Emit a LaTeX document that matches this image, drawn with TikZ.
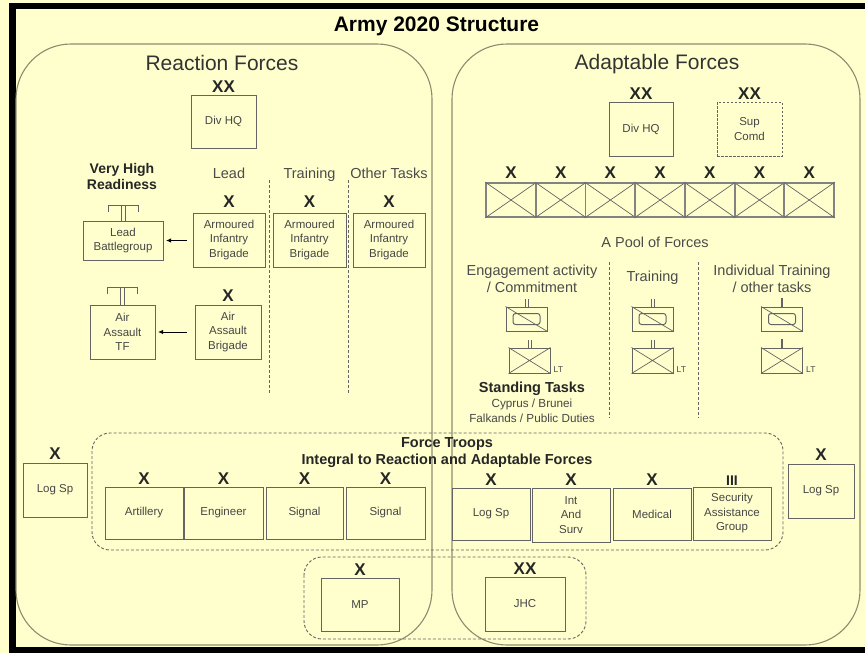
\documentclass[tikz,border=0pt]{standalone}
\usepackage{fontspec}
\setmainfont{Liberation Sans}
\usetikzlibrary{arrows.meta}
\definecolor{paper}{RGB}{255,255,206}
\definecolor{frameol}{RGB}{140,140,112}
\definecolor{boxline}{RGB}{100,100,100}
\definecolor{boxtext}{RGB}{70,70,70}
\definecolor{headtext}{RGB}{75,75,75}

\begin{document}
\begin{tikzpicture}[x=1pt,y=-1pt,
  unit/.style 2 args={draw=boxline, line width=1pt, fill=paper, inner sep=0pt,
    align=center, text=boxtext, font=\fontsize{11.5}{14.5}\selectfont,
    minimum width=#1, minimum height=#2},
  ech/.style={font=\bfseries\fontsize{17}{17}\selectfont, text=black!85,
    inner sep=0pt, anchor=south},
  head/.style={font=\fontsize{14.5}{17}\selectfont, text=headtext, inner sep=0pt, anchor=base},
  bighead/.style={font=\fontsize{21}{25}\selectfont, text=black!80, inner sep=0pt, anchor=base},
  boldhead/.style={font=\bfseries\fontsize{14}{17}\selectfont, text=black!85, inner sep=0pt, anchor=base},
  note/.style={font=\fontsize{11.7}{14}\selectfont, text=boxtext, inner sep=0pt, anchor=base},
  ltlab/.style={font=\fontsize{8.5}{9}\selectfont, text=boxtext, inner sep=0pt, anchor=base west},
  forcebox/.style={draw=frameol, line width=1.1pt, rounded corners=55pt},
  group/.style={draw=boxline, line width=0.9pt, dash pattern=on 3pt off 2pt, rounded corners=18pt},
  divider/.style={draw=boxline, line width=0.9pt, dash pattern=on 3pt off 2pt},
  poolbox/.style={draw=boxline!80, line width=1.8pt, minimum width=49.7, minimum height=34, inner sep=0pt},
  sym/.style 2 args={draw=boxline, line width=1pt, minimum width=#1, minimum height=#2, inner sep=0pt},
  thinline/.style={draw=boxline, line width=0.7pt},
  echmark/.style={draw=boxline, line width=1pt},
  feed/.style={draw=black, line width=1pt, -{Latex[length=5pt,width=4.5pt]}}
]
% page, frame and title
\fill[paper] (0,0) rectangle (865,653);
\fill[black] (9,3) rectangle (865,653);
\fill[paper] (16,9) rectangle (865,647);
\node[font=\bfseries\fontsize{21}{25}\selectfont, inner sep=0pt, anchor=base] (title) at (436.5,31) {Army 2020 Structure};

% the two force halves
\draw[forcebox] (16,44) rectangle (432,645);
\draw[forcebox] (452,44) rectangle (860,645);
\node[bighead] (rfhead) at (222,70) {Reaction Forces};
\node[bighead] (afhead) at (657,69) {Adaptable Forces};

% ---------------- Reaction Forces ----------------
\node[unit={65}{53}] (divL) at (223.5,121.5) {Div HQ};
\node[ech, yshift=1.5pt] (divLx) at (divL.north) {XX};

\node[boldhead] (vhr1) at (122,173.5) {Very High};
\node[boldhead] (vhr2) at (122,189) {Readiness};
\node[head] (hlead) at (229,178) {Lead};
\node[head] (htrain) at (309.5,178) {Training};
\node[head] (hother) at (389,178) {Other Tasks};
\coordinate (d1t) at (269,180); \coordinate (d1b) at (269,393);
\coordinate (d2t) at (348,180); \coordinate (d2b) at (348,393);
\draw[divider] (d1t) -- (d1b);
\draw[divider] (d2t) -- (d2b);

\node[unit={72}{54}] (armLead) at (229,240) {Armoured\\Infantry\\Brigade};
\node[unit={73}{54}] (armTrain) at (309.5,240) {Armoured\\Infantry\\Brigade};
\node[unit={72}{54}] (armOther) at (389,240) {Armoured\\Infantry\\Brigade};
\node[ech, yshift=4.5pt] (armLeadx) at (armLead.north) {X};
\node[ech, yshift=4.5pt] (armTrainx) at (armTrain.north) {X};
\node[ech, yshift=4.5pt] (armOtherx) at (armOther.north) {X};

\node[unit={80}{39}] (leadBG) at (123,240.5) {Lead\\Battlegroup};
\draw[echmark] ([shift={(-15,-9)}]leadBG.north) -- ++(0,-6) -- ++(30,0) -- ++(0,6);
\draw[echmark] ([xshift=-2]leadBG.north) -- ++(0,-15);
\draw[echmark] ([xshift=2]leadBG.north) -- ++(0,-15);

\node[unit={66}{54}] (aaBde) at (228,332) {Air\\Assault\\Brigade};
\node[ech, yshift=2.5pt] (aaBdex) at (aaBde.north) {X};
\node[unit={65}{54}] (aaTF) at (122.5,332) {Air\\Assault\\TF};
\draw[echmark] ([shift={(-15,-11)}]aaTF.north) -- ++(0,-6) -- ++(30,0) -- ++(0,6);
\draw[echmark] ([xshift=-2]aaTF.north) -- ++(0,-17);
\draw[echmark] ([xshift=2]aaTF.north) -- ++(0,-17);

\draw[feed] ([xshift=-6]armLead.west |- leadBG.east) -- ([xshift=2.5]leadBG.east);
\draw[feed] ([xshift=-8]aaBde.west) -- ([xshift=2.5]aaTF.east);

% ---------------- Adaptable Forces ----------------
\node[unit={64}{54}] (divR) at (641,129) {Div HQ};
\node[ech, yshift=1.5pt] (divRx) at (divR.north) {XX};
\node[unit={65}{54}, dash pattern=on 2.5pt off 1.5pt] (supC) at (749.5,129) {Sup\\Comd};
\node[ech, yshift=1.5pt] (supCx) at (supC.north) {XX};

\foreach \i in {0,...,6} {
  \node[poolbox] (p\i) at ({511+49.7*\i},200) {};
  \draw[thinline] (p\i.north west) -- (p\i.south east) (p\i.north east) -- (p\i.south west);
  \node[ech, yshift=3pt] (px\i) at (p\i.north) {X};
}
\node[head] (pool) at (655,247) {A Pool of Forces};

\node[head] (eng1) at (532,275) {Engagement activity};
\node[head] (eng2) at (532,292) {/ Commitment};
\node[head] (trn) at (652.5,281) {Training};
\node[head] (ind1) at (772,275) {Individual Training};
\node[head] (ind2) at (772,292) {/ other tasks};
\coordinate (d3t) at (609,262); \coordinate (d3b) at (609,418);
\coordinate (d4t) at (698,262); \coordinate (d4b) at (698,418);
\draw[divider] (d3t) -- (d3b);
\draw[divider] (d4t) -- (d4b);

% armoured reconnaissance squadrons
\foreach \n/\cx in {e/526.5, t/652.5, i/782} {
  \node[sym={41}{24}] (r\n) at (\cx,319) {};
  \draw[thinline] (r\n.north west) -- (r\n.south east);
  \draw[echmark, rounded corners=2.5pt] ([shift={(-13.5,-5.5)}]r\n.center) rectangle ([shift={(13.5,5.5)}]r\n.center);
}
% light infantry companies
\foreach \n/\cx in {e/529.5, t/652.5, i/782} {
  \node[sym={41}{25}] (l\n) at (\cx,360.5) {};
  \draw[thinline] (l\n.north west) -- (l\n.south east) (l\n.north east) -- (l\n.south west);
  \node[ltlab] (lt\n) at ([shift={(3,-1)}]l\n.south east) {LT};
}
% size markers
\foreach \s in {re, rt, le, lt} {
  \draw[thinline] ([xshift=-1.6]\s.north) -- ++(0,-8);
  \draw[thinline] ([xshift=1.6]\s.north) -- ++(0,-8);
}
\foreach \s in {ri, li} {
  \draw[boxline, line width=2.2pt] (\s.north) -- ++(0,-9);
}

\node[boldhead, font=\bfseries\fontsize{14.5}{17}\selectfont] (stand) at (532,392.5) {Standing Tasks};
\node[note] (cyp) at (532,407) {Cyprus / Brunei};
\node[note] (falk) at (532,422) {Falkands / Public Duties};

% ---------------- Force Troops ----------------
\draw[group] (92,433) rectangle (783,550);
\node[boldhead, font=\bfseries\fontsize{14.5}{17}\selectfont] (ft1) at (447,447.5) {Force Troops};
\node[boldhead, font=\bfseries\fontsize{14.5}{17}\selectfont] (ft2) at (447,464) {Integral to Reaction and Adaptable Forces};

\node[unit={78}{52}] (art) at (144,513) {Artillery};
\node[unit={79}{52}] (eng) at (223.5,513) {Engineer};
\node[unit={77}{52}] (sig1) at (304.5,513) {Signal};
\node[unit={79}{52}] (sig2) at (385.5,513) {Signal};
\node[unit={78}{52}] (logc) at (491,514) {Log Sp};
\node[unit={78}{54}] (ints) at (571,515) {Int\\And\\Surv};
\node[unit={78}{52}] (med) at (652,514) {Medical};
\node[unit={78}{53}] (sag) at (732,513.5) {Security\\Assistance\\Group};
\foreach \b in {art, eng, sig1, sig2, logc, ints, med} {
  \node[ech, yshift=1.5pt] (\b x) at (\b.north) {X};
}
\node[ech, yshift=1pt, font=\bfseries\fontsize{14}{14}\selectfont] (sagx) at (sag.north) {III};

\node[unit={64}{54}] (logL) at (55,490) {Log Sp};
\node[ech, yshift=3pt] (logLx) at (logL.north) {X};
\node[unit={66}{54}] (logR) at (821,491) {Log Sp};
\node[ech, yshift=3pt] (logRx) at (logR.north) {X};

% ---------------- Shared divisional assets ----------------
\draw[group] (304,557) rectangle (586,639);
\node[unit={78}{53}] (mp) at (360,604.5) {MP};
\node[ech, yshift=1.5pt] (mpx) at (mp.north) {X};
\node[unit={80}{54}] (jhc) at (525,604) {JHC};
\node[ech, yshift=1.5pt] (jhcx) at (jhc.north) {XX};
\end{tikzpicture}
\end{document}
